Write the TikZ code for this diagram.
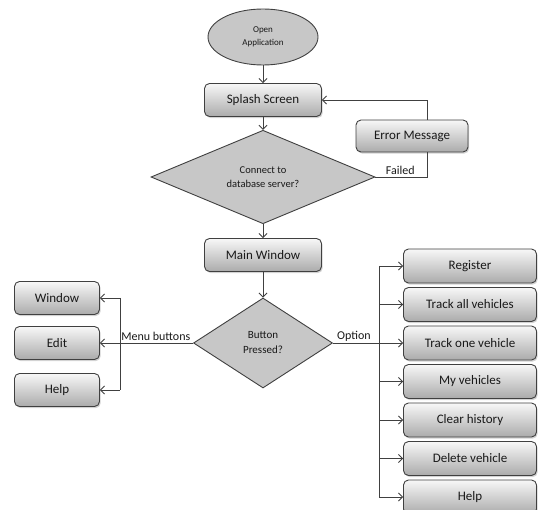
\documentclass[tikz,border=0pt]{standalone}
\usepackage{fontspec}
\setmainfont{Carlito}
\usetikzlibrary{shapes.geometric,shadows,arrows.meta}

\begin{document}
\begin{tikzpicture}[x=1pt,y=1pt,auto,>={Straight Barb[length=4pt,width=8pt]},
  box node/.style={rectangle,rounded corners=5pt,draw=black!75,line width=0.9pt,top color=black!3,bottom color=black!33,
    drop shadow={opacity=0.35,shadow xshift=1.2pt,shadow yshift=-1.6pt},minimum height=33pt,
    font=\fontsize{13}{15}\selectfont,text=black!90},
  decision node/.style={diamond,draw=black!75,line width=0.9pt,fill=black!22,inner sep=0pt,align=center,text=black!90},
  start node/.style={ellipse,draw=black!75,line width=0.9pt,fill=black!22,minimum width=110pt,minimum height=56pt,
    align=center,font=\fontsize{9}{13}\selectfont,text=black!90},
  flow/.style={->,draw=black!75,line width=0.9pt},
  label text/.style={font=\fontsize{12}{14}\selectfont,text=black!90,inner sep=1.5pt}]

  \useasboundingbox (0,0) rectangle (541,-510);

  % main column
  \node[start node] (open) at (263,-37) {Open\\Application};
  \node[box node,minimum width=117pt] (splash) [below of=open,node distance=63pt] {Splash Screen};
  \node[decision node,minimum width=224pt,minimum height=90pt,font=\fontsize{10.5}{14}\selectfont] (connect) [below of=splash,node distance=77pt] {Connect to\\database server?};
  \node[box node,minimum width=117pt] (mainwin) [below of=connect,node distance=78pt] {Main Window};
  \node[decision node,minimum width=139pt,minimum height=90pt,font=\fontsize{11}{15}\selectfont] (button) [below of=mainwin,node distance=88pt] {Button\\Pressed?};
  \node[box node,minimum width=112pt,minimum height=32pt] (error) at (412,-136) {Error Message};

  % menu buttons
  \node[box node,minimum width=85pt] (edit) [left of=button,node distance=206pt] {Edit};
  \node[box node,minimum width=85pt] (window) [above of=edit,node distance=45pt] {Window};
  \node[box node,minimum width=85pt] (help) [below of=edit,node distance=47pt] {Help};

  % options
  \node[box node,minimum width=133pt,minimum height=34pt] (trackone) [right of=button,node distance=207pt] {Track one vehicle};
  \node[box node,minimum width=133pt,minimum height=34pt] (trackall) [above of=trackone,node distance=38.5pt] {Track all vehicles};
  \node[box node,minimum width=133pt,minimum height=34pt] (register) [above of=trackall,node distance=38.5pt] {Register};
  \node[box node,minimum width=133pt,minimum height=34pt] (myveh) [below of=trackone,node distance=38.5pt] {My vehicles};
  \node[box node,minimum width=133pt,minimum height=34pt] (clear) [below of=myveh,node distance=38.5pt] {Clear history};
  \node[box node,minimum width=133pt,minimum height=34pt] (delete) [below of=clear,node distance=38.5pt] {Delete vehicle};
  \node[box node,minimum width=133pt,minimum height=34pt] (helpopt) [below of=delete,node distance=38.5pt] {Help};

  \path[flow]
    (open) edge (splash)
    (splash) edge (connect)
    (connect) edge (mainwin)
    (mainwin) edge (button);

  % failed loop
  \draw[draw=black!75,line width=0.9pt] (connect.east) -| ([xshift=15pt]error.south)
    node[label text,pos=0.24,above] {Failed};
  \draw[flow] ([xshift=15pt]error.north) |- (splash.east);

  % menu buttons
  \coordinate (mbus) at ([xshift=20pt]edit.east);
  \draw[flow] (button.west) -- (edit.east) node[label text,pos=0.4,above] {Menu buttons};
  \draw[draw=black!75,line width=0.9pt] (mbus |- window.east) -- (mbus |- help.east);
  \draw[flow] (mbus |- window.east) -- (window.east);
  \draw[flow] (mbus |- help.east) -- (help.east);

  % options
  \coordinate (obus) at ([xshift=-24pt]trackone.west);
  \draw[flow] (button.east) -- (trackone.west) node[label text,pos=0.3,above] {Option};
  \draw[draw=black!75,line width=0.9pt] (obus |- register.west) -- (obus |- helpopt.west);
  \foreach \n in {register,trackall,myveh,clear,delete,helpopt}
    \draw[flow] (obus |- \n.west) -- (\n.west);
\end{tikzpicture}
\end{document}
